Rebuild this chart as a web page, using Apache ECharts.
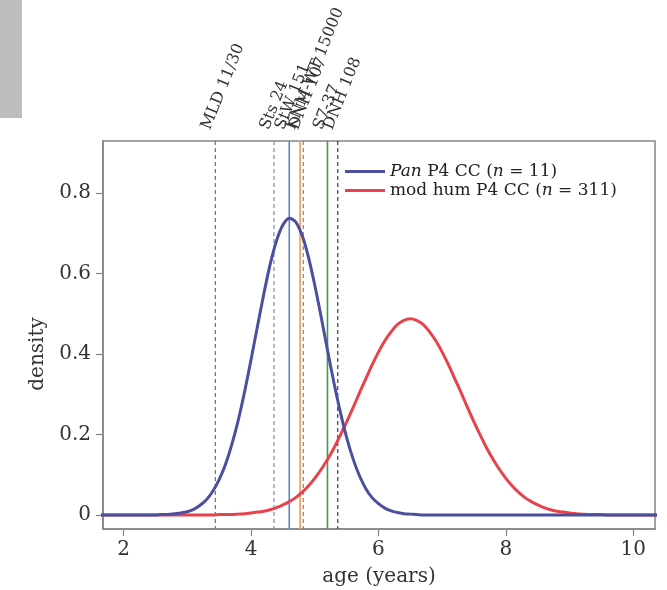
<!DOCTYPE html>
<html>
<head>
<meta charset="utf-8">
<script src="https://cdn.jsdelivr.net/npm/echarts@6/dist/echarts.min.js"></script>
<style>
  html, body { margin: 0; padding: 0; background: #fff; }
  #chart { width: 667px; height: 590px; }
</style>
</head>
<body>
<div id="chart"></div>
<script>
// Age grid (years) shared by both density curves
const ageGrid = [1.6,
  2.5, 2.6, 2.7, 2.8, 2.9,
  3.0, 3.1, 3.2, 3.3, 3.4, 3.5, 3.6, 3.7, 3.8, 3.9,
  4.0, 4.1, 4.2, 4.3, 4.4, 4.5, 4.6, 4.7, 4.8, 4.9,
  5.0, 5.1, 5.2, 5.3, 5.4, 5.5, 5.6, 5.7, 5.8, 5.9,
  6.0, 6.1, 6.2, 6.3, 6.4, 6.5, 6.6, 6.7, 6.8, 6.9,
  7.0, 7.1, 7.2, 7.3, 7.4, 7.5, 7.6, 7.7, 7.8, 7.9,
  8.0, 8.1, 8.2, 8.3, 8.4, 8.5, 8.6, 8.7, 8.8, 8.9,
  9.0, 9.1, 9.2, 9.3, 9.4, 9.5, 9.6, 9.7,
  10.4];

// Pan P4 crown completion density
const panDensity = [0,
  0.000, 0.001, 0.001, 0.003, 0.005,
  0.008, 0.014, 0.024, 0.038, 0.059, 0.088, 0.126, 0.176, 0.236, 0.307,
  0.386, 0.468, 0.549, 0.623, 0.682, 0.721, 0.738, 0.729, 0.696, 0.642,
  0.572, 0.493, 0.410, 0.330, 0.257, 0.193, 0.140, 0.098, 0.066, 0.043,
  0.028, 0.017, 0.010, 0.006, 0.003, 0.002, 0.001, 0, 0, 0,
  0, 0, 0, 0, 0, 0, 0, 0, 0, 0,
  0, 0, 0, 0, 0, 0, 0, 0, 0, 0,
  0, 0, 0, 0, 0, 0, 0, 0,
  0];

// Modern human P4 crown completion density
const humanDensity = [0,
  0, 0, 0, 0, 0,
  0, 0, 0, 0, 0, 0.001, 0.001, 0.001, 0.002, 0.003,
  0.005, 0.007, 0.009, 0.013, 0.018, 0.025, 0.033, 0.043, 0.056, 0.072,
  0.091, 0.113, 0.138, 0.166, 0.198, 0.231, 0.266, 0.303, 0.338, 0.373,
  0.405, 0.433, 0.456, 0.474, 0.484, 0.488, 0.484, 0.474, 0.456, 0.433,
  0.405, 0.373, 0.338, 0.303, 0.266, 0.231, 0.198, 0.166, 0.138, 0.113,
  0.091, 0.072, 0.056, 0.043, 0.033, 0.025, 0.018, 0.013, 0.009, 0.007,
  0.005, 0.003, 0.002, 0.001, 0.001, 0.001, 0, 0,
  0];

// Fossil specimens and their estimated ages
const specimenNames = ['MLD 11/30', 'Sts 24', 'StW 151', 'KNM-WT 15000', 'DNH 107', 'S7-37', 'DNH 108'];
const specimenAges = [3.44, 4.36, 4.60, 4.77, 4.82, 5.20, 5.36];

// Axis ticks
const xTicks = [2, 4, 6, 8, 10];
const yTicks = [0, 0.2, 0.4, 0.6, 0.8];

const PAN_NAME = 'Pan P4 CC (n = 11)';
const HUM_NAME = 'mod hum P4 CC (n = 311)';

// Per-specimen line styles (same order as specimenNames)
const specimenStyles = [
  { stroke: '#777777', dash: [4, 3], width: 1.3 },
  { stroke: '#8d8dc4', dash: [4, 3], width: 1.3 },
  { stroke: '#5a86cf', dash: null, width: 1.6 },
  { stroke: '#f0a862', dash: null, width: 1.8 },
  { stroke: '#8a8a8a', dash: [4, 3], width: 1.3 },
  { stroke: '#3f9a45', dash: null, width: 1.6 },
  { stroke: '#4a4f98', dash: [4, 3], width: 1.4 }
];

const X_MIN = 1.677, X_MAX = 10.34;
const Y_MIN = -0.035, Y_MAX = 0.93;
const SERIF = '"DejaVu Serif", "Liberation Serif", serif';
const LABEL_ANGLE = 68 * Math.PI / 180;

const chart = echarts.init(document.getElementById('chart'), null, { renderer: 'canvas' });

const axisGrey = '#858585';

chart.setOption({
  animation: false,
  backgroundColor: '#ffffff',
  grid: {
    left: 103, top: 141, right: 12, bottom: 61,
    outerBoundsMode: 'none', containLabel: false,
    show: true, borderColor: axisGrey, borderWidth: 1.5, backgroundColor: 'transparent'
  },
  xAxis: {
    type: 'value', min: X_MIN, max: X_MAX,
    name: 'age (years)', nameLocation: 'middle', nameGap: 38,
    nameTextStyle: { fontFamily: SERIF, fontSize: 20, color: '#333' },
    axisLine: { show: true, onZero: false, lineStyle: { color: axisGrey, width: 1.5 } },
    axisTick: { show: true, length: 7, inside: false, customValues: xTicks, lineStyle: { color: axisGrey, width: 1.2 } },
    axisLabel: { customValues: xTicks, margin: 11, fontFamily: SERIF, fontSize: 20, color: '#333' },
    splitLine: { show: false }
  },
  yAxis: {
    type: 'value', min: Y_MIN, max: Y_MAX,
    axisLine: { show: true, onZero: false, lineStyle: { color: axisGrey, width: 1.5 } },
    axisTick: { show: true, length: 7, inside: false, customValues: yTicks, lineStyle: { color: axisGrey, width: 1.2 } },
    axisLabel: { customValues: yTicks, margin: 12, fontFamily: SERIF, fontSize: 20, color: '#333',
      formatter: v => String(Math.round(v * 10) / 10) },
    splitLine: { show: false }
  },
  legend: {
    orient: 'vertical', left: 345, top: 163, padding: 0,
    itemWidth: 40, itemHeight: 3, itemGap: 2, icon: 'rect',
    data: [PAN_NAME, HUM_NAME],
    textStyle: {
      fontFamily: SERIF, fontSize: 17, color: '#222',
      rich: { it: { fontFamily: SERIF, fontSize: 17, fontStyle: 'italic', color: '#222' } }
    },
    formatter: name => name === PAN_NAME
      ? '{it|Pan} P4 CC ({it|n} = 11)'
      : 'mod hum P4 CC ({it|n} = 311)'
  },
  graphic: [
    { type: 'rect', left: 0, top: 0, shape: { width: 22, height: 118 }, style: { fill: '#bdbdbd' }, silent: true },
    { type: 'text', x: 38, y: 354, rotation: Math.PI / 2,
      style: { text: 'density', font: '20px ' + SERIF, fill: '#333', textAlign: 'center', textVerticalAlign: 'middle' } }
  ],
  series: [
    {
      name: 'specimens', type: 'custom', clip: false, z: 1,
      data: specimenAges.map(a => [a]),
      renderItem: (params, api) => {
        const i = params.dataIndex;
        const st = specimenStyles[i];
        const x = api.value(0);
        const top = api.coord([x, Y_MAX]);
        const bot = api.coord([x, Y_MIN]);
        return {
          type: 'group',
          children: [
            { type: 'line', shape: { x1: top[0], y1: top[1], x2: bot[0], y2: bot[1] },
              style: { stroke: st.stroke, lineWidth: st.width, lineDash: st.dash || null } },
            { type: 'text', x: top[0] - 2, y: top[1] - 9, rotation: LABEL_ANGLE,
              style: { text: specimenNames[i], font: '16px ' + SERIF, fill: '#333',
                textAlign: 'left', textVerticalAlign: 'bottom' } }
          ]
        };
      }
    },
    {
      name: HUM_NAME, type: 'line', z: 2,
      data: ageGrid.map((a, i) => [a, humanDensity[i]]),
      showSymbol: false, smooth: 0.3,
      lineStyle: { color: '#e8434c', width: 3 }, itemStyle: { color: '#e8434c' }
    },
    {
      name: PAN_NAME, type: 'line', z: 3,
      data: ageGrid.map((a, i) => [a, panDensity[i]]),
      showSymbol: false, smooth: 0.3,
      lineStyle: { color: '#4b4f9e', width: 3 }, itemStyle: { color: '#4b4f9e' }
    }
  ]
});
</script>
</body>
</html>
